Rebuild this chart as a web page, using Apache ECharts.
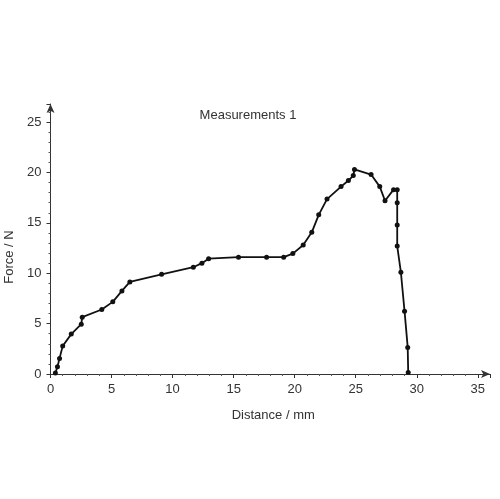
<!DOCTYPE html>
<html>
<head>
<meta charset="utf-8">
<script src="https://cdn.jsdelivr.net/npm/echarts@6/dist/echarts.min.js"></script>
<style>html,body{margin:0;padding:0;background:#fff;}#c{width:500px;height:499px;}</style>
</head>
<body>
<div id="c"></div>
<script>
var distance = [0.4,0.57,0.74,1.0,1.7,2.52,2.6,4.2,5.1,5.85,6.5,9.1,11.7,12.4,12.95,15.4,17.7,19.1,19.85,20.7,21.4,21.97,22.65,23.8,24.4,24.8,24.9,26.26,26.97,27.4,28.1,28.4,28.4,28.4,28.4,28.7,29.0,29.26,29.3];
var force = [0.1,0.72,1.55,2.77,3.96,4.95,5.64,6.4,7.16,8.25,9.14,9.9,10.6,11.0,11.45,11.6,11.6,11.6,11.95,12.8,14.06,15.8,17.36,18.6,19.2,19.7,20.3,19.8,18.6,17.2,18.3,18.3,17.0,14.8,12.7,10.1,6.24,2.64,0.15];
var titleText = "Measurements 1";
var xName = "Distance / mm";
var yName = "Force / N";

var pts = distance.map(function(d,i){return [d, force[i]];});
var font = "Liberation Sans";
var chart = echarts.init(document.getElementById('c'));
chart.setOption({
  animation: false,
  backgroundColor: '#fff',
  title: {
    text: titleText, left: 243, top: 104, textAlign: 'center',
    textStyle: {fontFamily: font, fontSize: 13, fontWeight: 'normal', color: '#333'}
  },
  grid: {left: 50.5, right: 10, top: 104, bottom: 125, outerBoundsMode: 'none'},
  xAxis: {
    type: 'value', min: 0, max: 36, interval: 5,
    name: xName, nameLocation: 'middle', nameGap: 35,
    nameTextStyle: {fontFamily: font, fontSize: 13, color: '#333', padding: [0, 0, 0, 6]},
    axisLine: {show: true, symbol: ['none', 'arrow'], symbolSize: [6, 9], lineStyle: {color: '#333', width: 1}},
    axisTick: {show: true, length: 4, lineStyle: {color: '#333'}},
    minorTick: {show: true, splitNumber: 5, length: 2, lineStyle: {color: '#555'}},
    axisLabel: {fontFamily: font, fontSize: 13, color: '#333', margin: 9,
      showMaxLabel: false},
    splitLine: {show: false}
  },
  yAxis: {
    type: 'value', min: 0, max: 26.8, interval: 5,
    name: yName, nameLocation: 'middle', nameGap: 32,
    nameTextStyle: {fontFamily: font, fontSize: 13, color: '#333', padding: [0, 36, 0, 0]},
    axisLine: {show: true, symbol: ['none', 'arrow'], symbolSize: [6, 9], lineStyle: {color: '#333', width: 1}},
    axisTick: {show: true, length: 4, lineStyle: {color: '#333'}},
    minorTick: {show: true, splitNumber: 5, length: 2, lineStyle: {color: '#555'}},
    axisLabel: {fontFamily: font, fontSize: 13, color: '#333', margin: 9,
      formatter: function(v){ return (v % 5 === 0) ? String(v) : ''; }},
    splitLine: {show: false}
  },
  series: [{
    type: 'line', data: pts,
    symbol: 'circle', symbolSize: 5, showAllSymbol: true,
    lineStyle: {color: '#111', width: 1.8},
    itemStyle: {color: '#111'}
  }]
});
</script>
</body>
</html>
